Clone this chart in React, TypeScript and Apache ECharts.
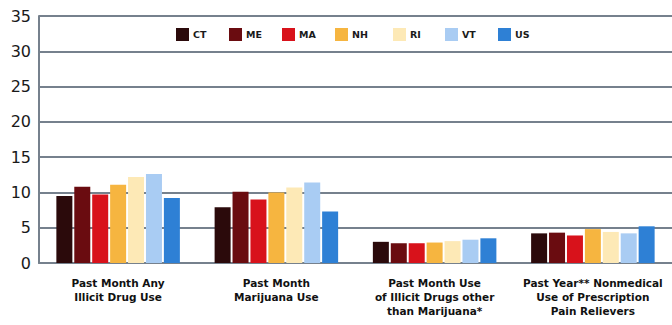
import React, { useEffect, useRef } from "react";
import * as echarts from "echarts";

// Survey measures on the category axis
const categories: string[] = [
  "Past Month Any\nIllicit Drug Use",
  "Past Month\nMarijuana Use",
  "Past Month Use\nof Illicit Drugs other\nthan Marijuana*",
  "Past Year** Nonmedical\nUse of Prescription\nPain Relievers",
];

// Percentages per state / nation
const regions: string[] = ["CT", "ME", "MA", "NH", "RI", "VT", "US"];
const ctValues: number[] = [9.5, 7.9, 3.0, 4.2];
const meValues: number[] = [10.8, 10.1, 2.8, 4.3];
const maValues: number[] = [9.7, 9.0, 2.8, 3.9];
const nhValues: number[] = [11.1, 10.0, 2.9, 4.8];
const riValues: number[] = [12.2, 10.7, 3.1, 4.4];
const vtValues: number[] = [12.6, 11.4, 3.3, 4.2];
const usValues: number[] = [9.2, 7.3, 3.5, 5.2];

const yTicks = { min: 0, max: 35, interval: 5 };

const colors: string[] = ["#2b0a0b", "#6a0c10", "#d8121b", "#f6b540", "#fde9b6", "#a9ccf3", "#2e80d5"];
const legendLefts: number[] = [176, 229, 282, 335, 393, 445, 498];

const FONT = "'DejaVu Sans', 'Noto Sans', sans-serif";
const GRID_COLOR = "#76818d";

export default function App() {
  const ref = useRef<HTMLDivElement>(null);

  useEffect(() => {
    if (!ref.current) return;
    const chart = echarts.init(ref.current, undefined, { renderer: "svg" });
    const values = [ctValues, meValues, maValues, nhValues, riValues, vtValues, usValues];

    chart.setOption({
      animation: false,
      backgroundColor: "#ffffff",
      color: colors,
      textStyle: { fontFamily: FONT },
      grid: { left: 39, top: 16, width: 634, bottom: 62, containLabel: false },
      legend: regions.map((name, i) => ({
        data: [name],
        left: legendLefts[i],
        top: 28,
        itemWidth: 13,
        itemHeight: 13,
        itemGap: 5,
        icon: "rect",
        padding: 0,
        textStyle: { fontFamily: FONT, fontSize: 9.5, fontWeight: "bold", color: "#1a1a1a", padding: [0, 0, 0, -1] },
      })),
      xAxis: {
        type: "category",
        data: categories,
        axisLine: { show: true, lineStyle: { color: GRID_COLOR, width: 2 } },
        axisTick: { show: false },
        axisLabel: {
          interval: 0,
          margin: 13,
          fontFamily: FONT,
          fontSize: 10.5,
          fontWeight: "bold",
          lineHeight: 14,
          color: "#111111",
          hideOverlap: false,
        },
      },
      yAxis: {
        type: "value",
        min: yTicks.min,
        max: yTicks.max,
        interval: yTicks.interval,
        axisLine: { show: true, lineStyle: { color: GRID_COLOR, width: 2 } },
        axisTick: { show: false },
        splitLine: { show: true, lineStyle: { color: GRID_COLOR, width: 2 } },
        axisLabel: { fontFamily: FONT, fontSize: 16, color: "#1a1a1a", margin: 8 },
      },
      series: regions.map((name, i) => ({
        name,
        type: "bar",
        data: values[i],
        barWidth: 16,
        barGap: "12%",
        itemStyle: { color: colors[i] },
      })),
    });

    return () => chart.dispose();
  }, []);

  return (
    <div
      ref={ref}
      style={{ position: "fixed", left: 0, top: 0, width: 672, height: 325, background: "#fff" }}
    />
  );
}
